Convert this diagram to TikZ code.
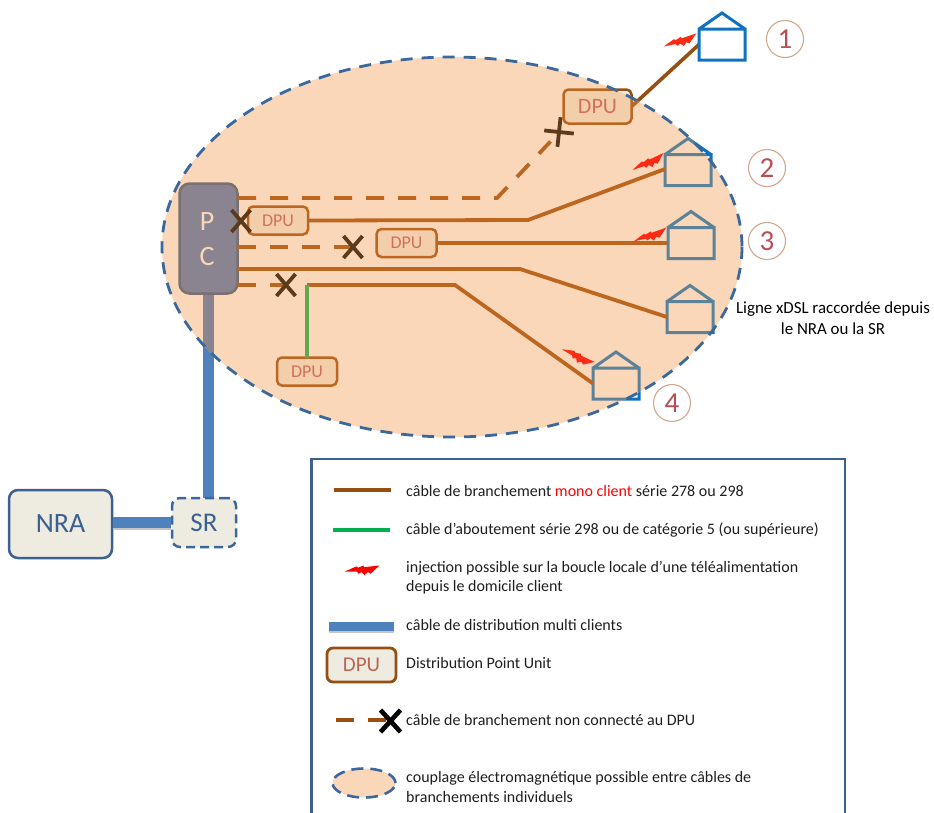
\documentclass[tikz,border=0pt]{standalone}
\usepackage{fontspec}
\setmainfont{Carlito}
\usetikzlibrary{shapes.misc,shapes.geometric}
\definecolor{ellfill}{HTML}{FAD7B9}
\definecolor{elledge}{HTML}{3B689C}
\definecolor{brin}{HTML}{BD661F}
\definecolor{brout}{HTML}{954F12}
\definecolor{xbrown}{HTML}{5B3B1C}
\definecolor{dpufill}{HTML}{F2CFAA}
\definecolor{dputext}{HTML}{D2705C}
\definecolor{hout}{HTML}{0F72C0}
\definecolor{hin}{HTML}{5C8298}
\definecolor{pcfill}{HTML}{8A8490}
\definecolor{pcedge}{HTML}{7A7070}
\definecolor{blcable}{HTML}{4F81BD}
\definecolor{shadowc}{HTML}{C4C4C4}
\definecolor{boxfill}{HTML}{EEECE1}
\definecolor{boxedge}{HTML}{3C6090}
\definecolor{numtxt}{HTML}{B84F55}
\definecolor{numedge}{HTML}{CFA88E}
\definecolor{grtxt}{HTML}{1F1F1F}
\definecolor{boltc}{HTML}{FF2A14}
\definecolor{greenin}{HTML}{62A84E}
\definecolor{greenleg}{HTML}{00B050}
\tikzset{
  housebox/.style={inner sep=0pt,outer sep=0pt,minimum width=46pt,minimum height=31pt},
  dpubox/.style={draw=brin,fill=dpufill,line width=2.5pt,rounded corners=5pt,text=dputext,font=\fontsize{18}{18}\selectfont,inner sep=0pt,outer sep=0pt,minimum width=60pt,minimum height=28pt},
  xmark/.style={cross out,draw=xbrown,line width=3.8pt,inner sep=0pt,outer sep=0pt,minimum width=19pt,minimum height=22pt},
  xblack/.style={cross out,draw=black,line width=4.6pt,inner sep=0pt,outer sep=0pt,minimum width=20pt,minimum height=22pt},
  cablein/.style={draw=brin,line width=3.8pt},
  cabledash/.style={draw=brin,line width=3.8pt,dash pattern=on 18pt off 14pt},
  numc/.style={circle,draw=numedge,line width=1.1pt,minimum size=37pt,inner sep=0pt,text=numtxt,font=\fontsize{29}{29}\selectfont},
  legtxt/.style={anchor=west,inner sep=0pt,text=grtxt,font=\fontsize{16}{16}\selectfont},
  bigbox/.style={draw=boxedge,fill=boxfill,line width=2.5pt,rounded corners=9pt,inner sep=0pt,text=boxedge,font=\fontsize{28}{28}\selectfont},
  ellstyle/.style={draw=elledge,line width=2.8pt,dash pattern=on 12pt off 9pt},
}
\newcommand{\housepath}[2]{%
  \draw[#2,line width=3pt,line join=miter] (#1.south west) rectangle (#1.north east)
    (#1.north west) -- ([yshift=16pt]#1.north) -- (#1.north east);}
\newcommand{\bolt}[4]{%
  \fill[#4,shift={(#1,#2)},rotate=#3]
    (-17,4) -- (-6,-2) -- (-4,-1) -- (1,-3.5) -- (2,-2) -- (17,-5) -- (9,4) -- (6,2.5) -- (3,6) -- (0,3) -- (-3,5) -- (-5,3) -- cycle;}
\begin{document}
\begin{tikzpicture}[x=1pt,y=-1pt]
\useasboundingbox (0,0) rectangle (934,812);
\clip (0,0) rectangle (934,812);
% anchors
\node[housebox] (h1) at (722,44.5) {};
\node[housebox] (h2) at (688,170) {};
\node[housebox] (h3) at (691,243) {};
\node[housebox] (h4) at (690,317) {};
\node[housebox] (h5) at (616,383.5) {};
\node[inner sep=0pt,outer sep=0pt,minimum width=68pt,minimum height=34pt] (dtop) at (597.5,106.5) {};
\node[bigbox,minimum width=103pt,minimum height=68pt] (nra) at (60.5,524) {NRA};
\node[inner sep=0pt,outer sep=0pt,minimum width=59pt,minimum height=111pt] (pcanchor) at (208,238.5) {};
\coordinate (srtop) at (208,500);
% parts seen outside the ellipse
\draw[blcable,line width=11pt] (pcanchor.south) -- (srtop);
\draw[brout,line width=3.6pt] (dtop.east) -- (h1.west);
\foreach \h in {h1,h2,h3,h4,h5}{\housepath{\h}{hout}}
\draw[brout,line width=2.5pt,rounded corners=5pt,fill=boxfill] (dtop.south west) rectangle (dtop.north east);
% ellipse
\fill[ellfill] (452,247) ellipse [x radius=290,y radius=190];
\begin{scope}
\clip (452,247) ellipse [x radius=290,y radius=190];
\draw[pcfill,line width=11pt] (pcanchor.south) -- (srtop);
\foreach \h in {h1,h2,h3,h4,h5}{\housepath{\h}{hin}}
\draw[brin,line width=3.6pt] (dtop.east) -- (h1.west);
\draw[brin,line width=2.5pt,rounded corners=5pt,fill=dpufill] (dtop.south west) rectangle (dtop.north east);
\end{scope}
% PC
\node[draw=pcedge,fill=pcfill,line width=2.5pt,rounded corners=10pt,minimum width=58pt,minimum height=110pt,inner sep=0pt,outer sep=0pt] (pc) at (208.5,238.5) {};
\node[text=ellfill,font=\fontsize{28}{28}\selectfont,inner sep=0pt] (pcp) at (207,222) {P};
\node[text=ellfill,font=\fontsize{28}{28}\selectfont,inner sep=0pt] (pcc) at (207,257) {C};
% DPU nodes
\node[dpubox] (d2) at (278,220.5) {DPU};
\node[dpubox] (d3) at (406.5,243) {DPU};
\node[dpubox] (d4) at (307,371.5) {DPU};
\node[text=dputext,font=\fontsize{22}{22}\selectfont,inner sep=0pt] (dtopt) at (dtop) {DPU};
% bends and ends
\coordinate (c1) at (241,221);
\coordinate (c2) at (353,247);
\coordinate (c3) at (286,285);
\coordinate (c4) at (559,132);
\coordinate (e4) at (550.5,141.5);
\coordinate (b1) at (497,198);
\coordinate (b2) at (528,220);
\coordinate (b3) at (520,269);
\coordinate (b4) at (307,285);
\coordinate (b5) at (455,285);
\coordinate (p1) at (238,198);
\coordinate (p2) at (238,247);
\coordinate (p3) at (238,269);
\coordinate (p4) at (238,285);
% cables
\draw[cabledash] (p1) -- (b1) -- (e4);
\draw[cablein] (d2.east) -- (b2) -- ([yshift=1pt]h2.west);
\draw[cablein] (d3.east) -- (h3.west);
\draw[cablein] (p3) -- (b3) -- (h4.west);
\draw[cabledash] (p2) -- (c2);
\draw[cabledash] (p4) -- (c3);
\draw[cablein] (b4) -- (b5) -- (h5.west);
\draw[greenin,line width=3.6pt] (b4) -- (b4 |- d4.north);
% X marks
\node[xmark] (x1) at (c1) {};
\node[xmark] (x2) at (c2) {};
\node[xmark] (x3) at (c3) {};
\node[xmark,minimum width=21pt,minimum height=21pt,rotate=39] (x4) at (c4) {};
% ellipse edge
\draw[ellstyle] (452,247) ellipse [x radius=290,y radius=190];
% bolts
\bolt{680}{40.5}{7}{boltc}
\bolt{648}{162}{14}{boltc}
\bolt{650}{235}{8}{boltc}
\bolt{578}{356}{-36}{boltc}
% numbers
\node[numc] (n1) at (785,39) {1};
\node[numc] (n2) at (767,168) {2};
\node[numc] (n3) at (767,241) {3};
\node[numc] (n4) at (672,403) {4};
% caption
\node[align=center,text=black,font=\fontsize{16.9}{21}\selectfont,inner sep=0pt] (cap) at (833,318.5) {Ligne xDSL raccordée depuis\\le NRA ou la SR};
% SR and distribution
\node[draw=elledge,fill=boxfill,line width=2.5pt,dash pattern=on 9pt off 5pt,rounded corners=8pt,minimum width=64pt,minimum height=49pt,inner sep=0pt,text=boxedge,font=\fontsize{27}{27}\selectfont] (sr) at (204,522.5) {SR};
\draw[shadowc,line width=2pt] ([yshift=-6.5pt]sr.west -| nra.east) -- ([yshift=-6.5pt]sr.west);
\draw[blcable,line width=11pt] (sr.west -| nra.east) -- (sr.west);
% legend
\draw[boxedge,line width=2.5pt,fill=white] (311.5,459) rectangle (845,840);
\coordinate (l1a) at (334,490); \coordinate (l1b) at (391,490);
\draw[brout,line width=3.6pt] (l1a) -- (l1b);
\node[legtxt] (t1) at (406,491) {câble de branchement \textcolor{red}{mono client} série 278 ou 298};
\coordinate (l2a) at (332.5,530); \coordinate (l2b) at (390,530);
\draw[greenleg,line width=3.6pt] (l2a) -- (l2b);
\node[legtxt] (t2) at (406,530) {câble d’aboutement série 298 ou de catégorie 5 (ou supérieure)};
\bolt{362}{569}{-5}{red}
\node[legtxt] (t3) at (406,568) {injection possible sur la boucle locale d’une téléalimentation};
\node[legtxt] (t3b) at (406,587) {depuis le domicile client};
\fill[shadowc] (329,630) rectangle (394,633);
\fill[blcable] (329,621.5) rectangle (394,631);
\node[legtxt] (t4) at (406,625) {câble de distribution multi clients};
\node[draw=brout,fill=boxfill,line width=2.8pt,rounded corners=6pt,minimum width=69pt,minimum height=34pt,inner sep=0pt,text=dputext!90!black,font=\fontsize{21}{21}\selectfont] (dl) at (361.5,665) {DPU};
\node[legtxt] (t5) at (406,663) {Distribution Point Unit};
\coordinate (cl) at (390.5,721);
\coordinate (l6a) at (336,720);
\draw[brout,line width=3.6pt,dash pattern=on 18pt off 14pt] (l6a) -- (cl |- l6a);
\node[xblack] (xl) at (cl) {};
\node[legtxt] (t6) at (406,720) {câble de branchement non connecté au DPU};
\node[ellipse,draw=elledge,fill=ellfill,line width=2.6pt,dash pattern=on 12pt off 7pt,minimum width=63pt,minimum height=29pt,inner sep=0pt] (el) at (364,783) {};
\node[legtxt] (t7) at (406,778) {couplage électromagnétique possible entre câbles de};
\node[legtxt] (t7b) at (406,797) {branchements individuels};
\end{tikzpicture}
\end{document}
